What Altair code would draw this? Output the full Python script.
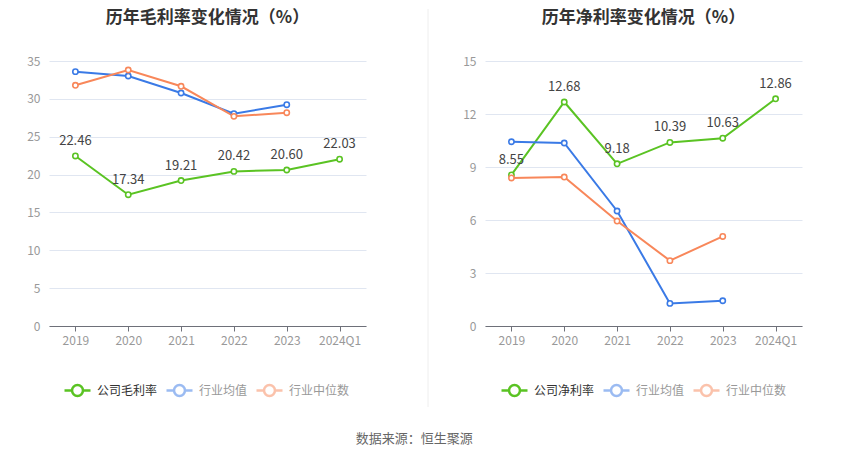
import altair as alt
import pandas as pd

years = ["2019", "2020", "2021", "2022", "2023", "2024Q1"]

gross_names = ["公司毛利率", "行业均值", "行业中位数"]
gross_company = [22.46, 17.34, 19.21, 20.42, 20.60, 22.03]
gross_avg = [33.59, 33.02, 30.77, 28.04, 29.23, None]
gross_median = [31.79, 33.81, 31.66, 27.69, 28.17, None]

net_names = ["公司净利率", "行业均值", "行业中位数"]
net_company = [8.55, 12.68, 9.18, 10.39, 10.63, 12.86]
net_avg = [10.43, 10.36, 6.51, 1.28, 1.43, None]
net_median = [8.38, 8.43, 5.94, 3.70, 5.07, None]

colors = ["#5ac323", "#3a7ae6", "#f8875a"]
FONT = "Noto Sans CJK SC"

SYMBOL = ("M-1,0L-0.42,0M0.42,0L1,0M0.42,0A0.42,0.42,0,1,1,-0.42,0"
          "A0.42,0.42,0,1,1,0.42,0Z")


def long_df(names, comp, avg, med):
    rows = []
    for name, vals in zip(names, [comp, avg, med]):
        for y, v in zip(years, vals):
            if v is not None:
                rows.append({"year": y, "series": name, "value": v,
                             "order": names.index(name), "label": f"{v:.2f}"})
    return pd.DataFrame(rows)


def panel(title, names, comp, avg, med, ymax, step, sep_x, sep_opacity, leg_x):
    df = long_df(names, comp, avg, med)
    first = names[0]
    x = alt.X("year:N", sort=years, scale=alt.Scale(type="point", padding=0.5, domain=years),
              axis=alt.Axis(title=None, labelAngle=0, labelColor="#999", labelFontSize=12,
                            labelFont=FONT, domainColor="#6e7079", tickColor="#6e7079",
                            tickSize=5, labelPadding=4, grid=False))
    y = alt.Y("value:Q", scale=alt.Scale(domain=[0, ymax], nice=False),
              axis=alt.Axis(title=None, values=list(range(0, ymax + 1, step)),
                            labelColor="#999", labelFontSize=12, labelFont=FONT,
                            domain=False, ticks=False, labelPadding=9,
                            gridColor="#e0e6f1"))
    cscale = alt.Scale(domain=names, range=colors)
    legend = alt.Legend(
        title=None, orient="none", legendX=leg_x, legendY=315, direction="horizontal",
        symbolType=SYMBOL, symbolSize=676, symbolStrokeWidth=2.5,
        symbolFillColor="white",
        symbolOpacity=alt.ExprRef(f"datum.label == '{first}' ? 1 : 0.5"),
        labelColor=alt.ExprRef(f"datum.label == '{first}' ? '#333' : '#999'"),
        labelFontSize=12, labelFont=FONT, labelOffset=5, columnPadding=3,
        labelLimit=200)
    base = alt.Chart(df)
    rule = alt.Chart(pd.DataFrame({"a": [0]})).mark_rule(
        color="#eeeeee", strokeWidth=1, opacity=sep_opacity).encode(
        x=alt.value(sep_x), y=alt.value(-52), y2=alt.value(346))
    line = base.mark_line(strokeWidth=2).encode(
        x=x, y=y, color=alt.Color("series:N", scale=cscale, legend=legend),
        detail="series:N", order=alt.Order("order:Q"))
    pts = base.mark_point(filled=True, fill="white", size=28, strokeWidth=1.6,
                          opacity=1).encode(
        x=x, y=y, stroke=alt.Stroke("series:N", scale=cscale, legend=None))
    txt = base.transform_filter(alt.datum.series == first).mark_text(
        dy=-15, fontSize=13, color="#444", font=FONT).encode(
        x=x, y=y, text="label:N")
    return alt.layer(rule, line, pts, txt).properties(
        width=317, height=265,
        view=alt.ViewBackground(stroke="transparent", strokeWidth=0),
        title=alt.TitleParams(title, fontSize=17, fontWeight="bold", color="#333",
                              font=FONT, offset=-18, anchor="middle"))


left = panel("历年毛利率变化情况（%）", gross_names, gross_company, gross_avg,
             gross_median, 35, 5, 379, 1, 14)
right = panel("历年净利率变化情况（%）", net_names, net_company, net_avg,
              net_median, 15, 3, 0, 0, 15)

chart = alt.hconcat(left, right, spacing=119, bounds="flush").resolve_scale(
    color="independent", stroke="independent", y="independent"
).properties(
    title=alt.TitleParams("数据来源：恒生聚源", orient="bottom", anchor="middle",
                          fontSize=13, fontWeight="normal", color="#666", font=FONT,
                          offset=25),
    padding={"left": 18, "top": 0, "right": 5, "bottom": 5},
).configure_view(stroke="transparent", strokeWidth=0).configure(background="white")

chart.save("out.html", embed_options={"renderer": "svg", "actions": False})
